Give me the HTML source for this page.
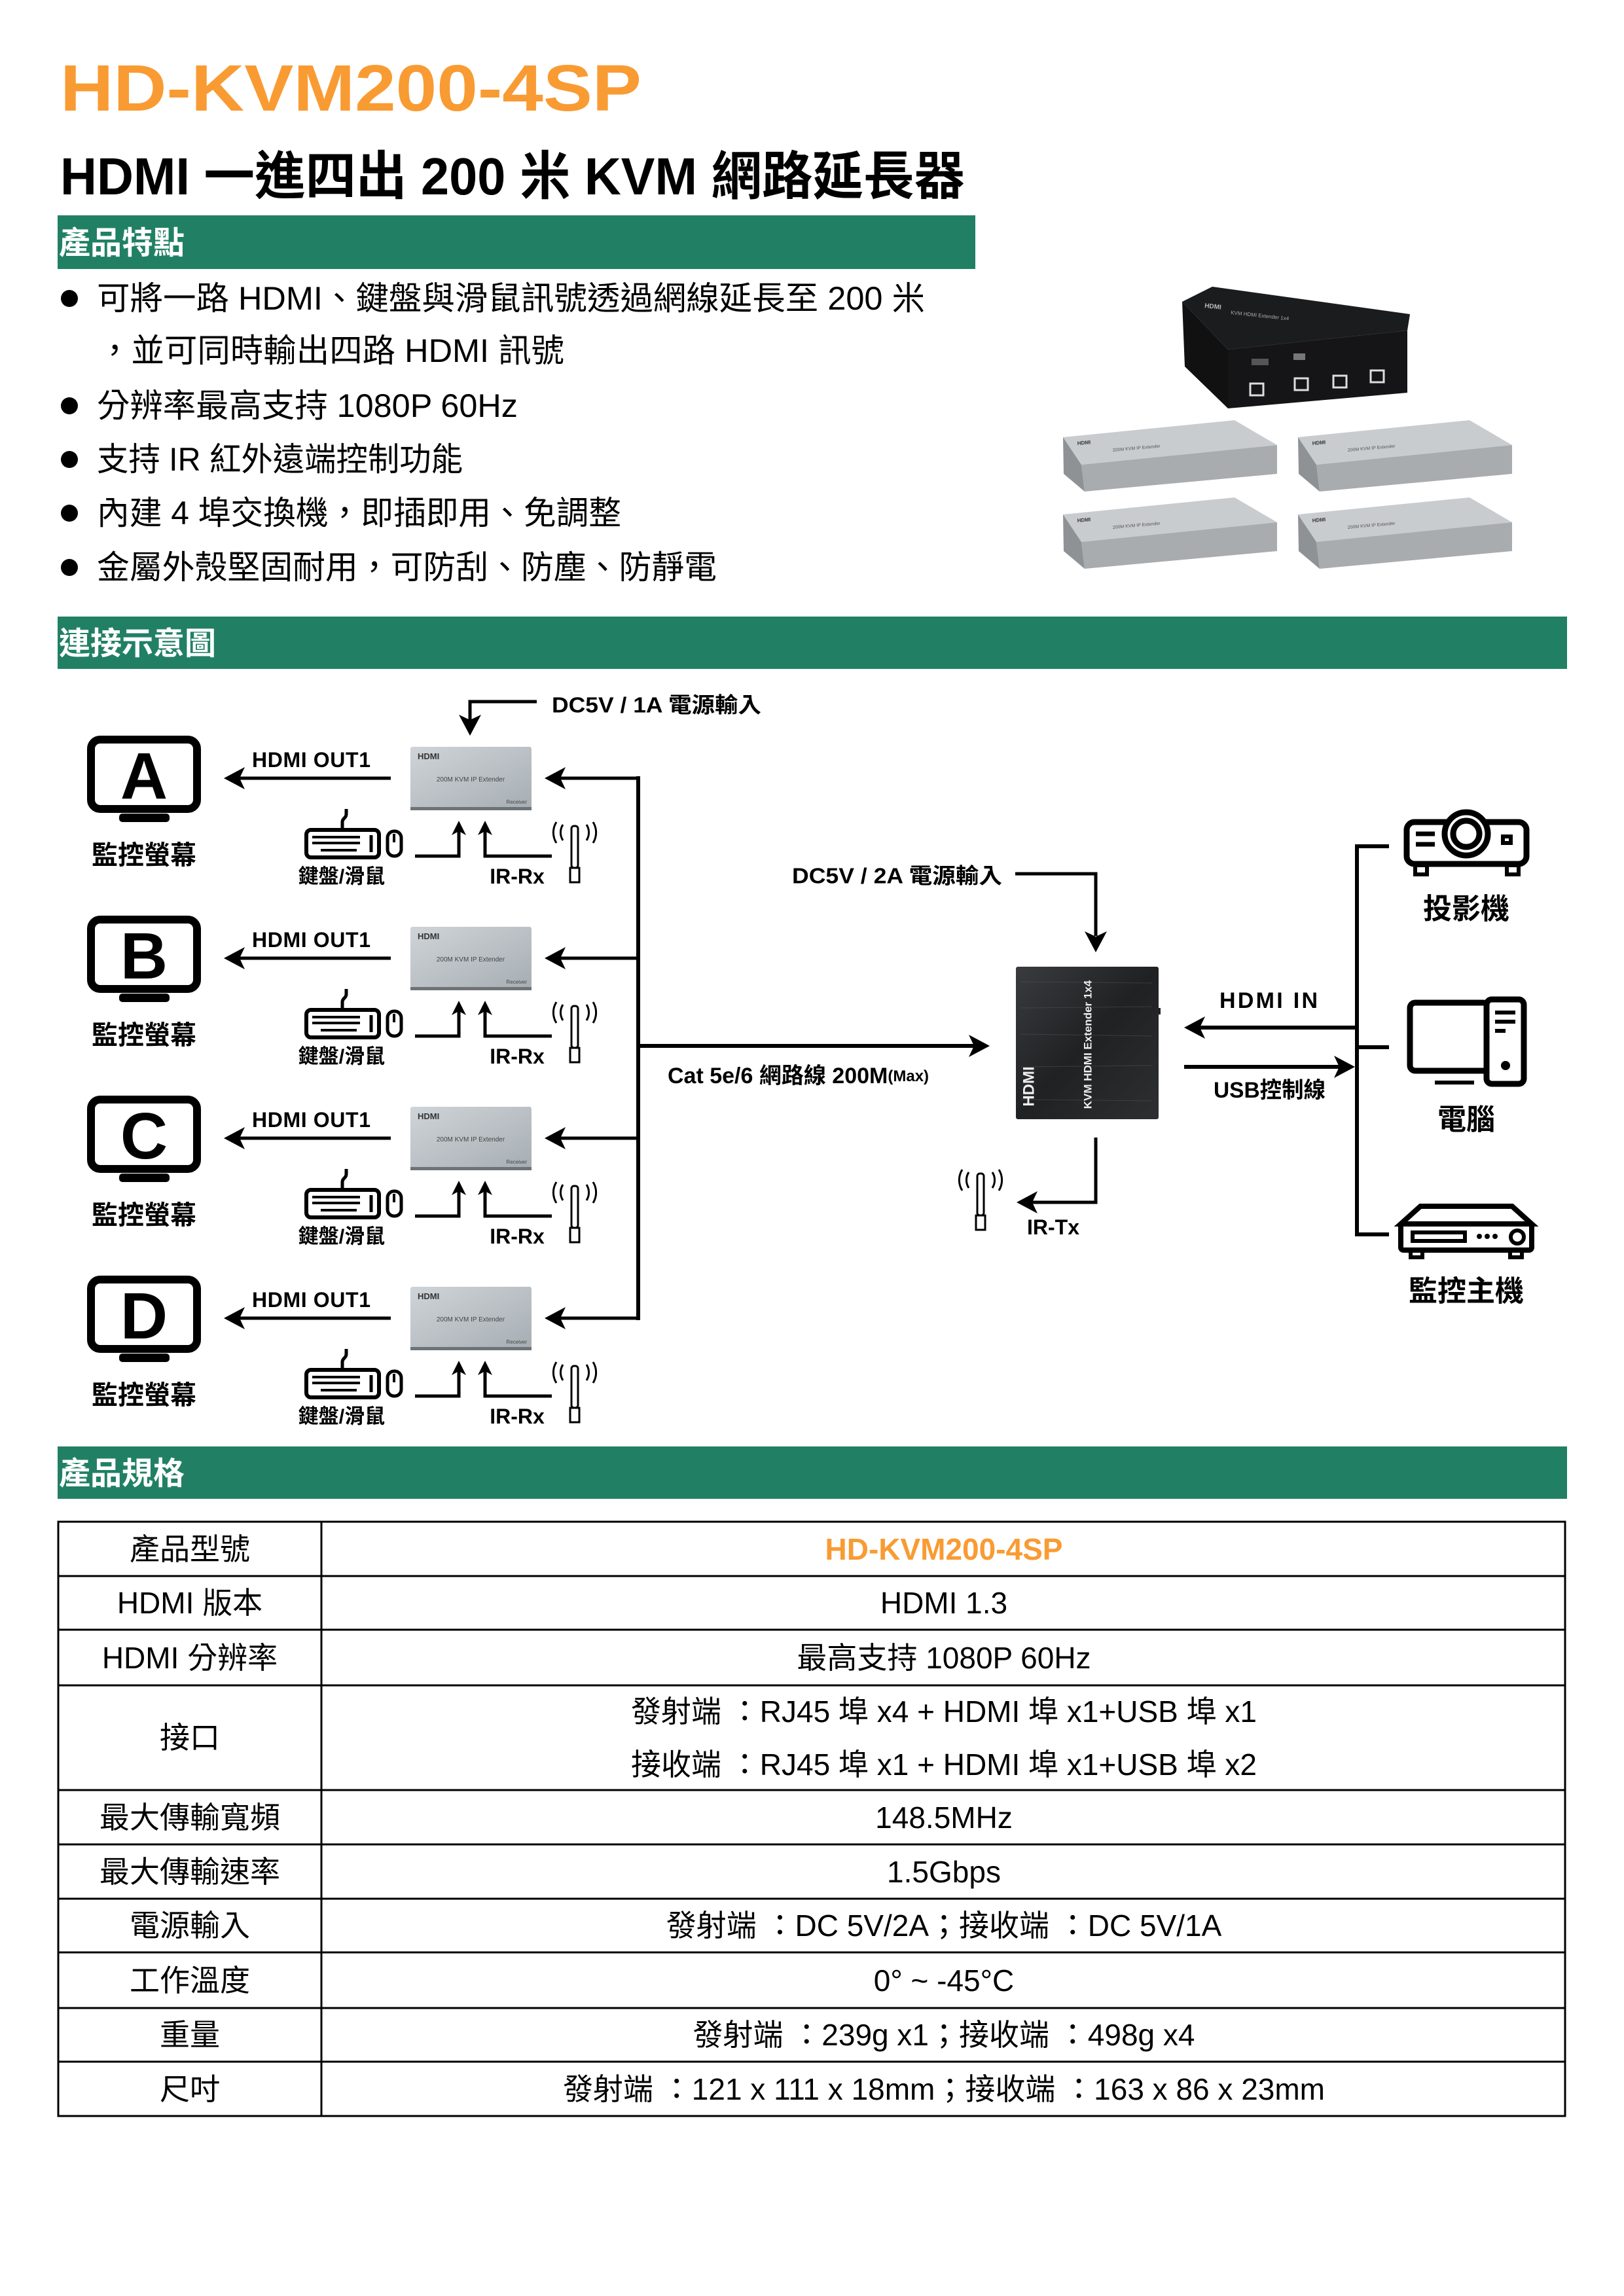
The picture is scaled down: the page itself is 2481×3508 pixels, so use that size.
<!DOCTYPE html>
<html><head><meta charset="utf-8"><style>
html,body{margin:0;padding:0;background:#fff}
svg{display:block}
text{font-family:"Liberation Sans","Noto Sans CJK TC",sans-serif}
.b{font-weight:bold}
</style></head><body>
<svg width="2481" height="3508" viewBox="0 0 2481 3508" xmlns="http://www.w3.org/2000/svg">
<defs>
<linearGradient id="rg" x1="0" y1="0" x2="1" y2="1"><stop offset="0" stop-color="#cfd4d8"/><stop offset="1" stop-color="#a7aeb3"/></linearGradient>
<linearGradient id="tg" x1="0" y1="0" x2="1" y2="1"><stop offset="0" stop-color="#3a3b3e"/><stop offset="0.5" stop-color="#202123"/><stop offset="1" stop-color="#2e2f31"/></linearGradient>
<g id="lArr"><polygon points="0,0 32,-17 24,0 32,17" fill="#000"/></g>
<g id="rArr"><polygon points="0,0 -32,-17 -24,0 -32,17" fill="#000"/></g>
<g id="uArr"><polygon points="0,0 -11,22 0,16 11,22" fill="#000"/></g>
<g id="dArr"><polygon points="0,0 -17,-32 0,-24 17,-32" fill="#000"/></g>
<g id="ant">
  <rect x="-5" y="0" width="10" height="64" fill="none" stroke="#000" stroke-width="3" rx="4"/>
  <rect x="-7" y="64" width="14" height="22" fill="none" stroke="#000" stroke-width="3"/>
  <path d="M-18,-2 A22,22 0 0 0 -18,22 M-28,-6 A30,30 0 0 0 -28,26 M18,-2 A22,22 0 0 1 18,22 M28,-6 A30,30 0 0 1 28,26" fill="none" stroke="#000" stroke-width="3"/>
</g>
<g id="row">
  <rect x="139" y="1130" width="162" height="106" rx="14" fill="none" stroke="#000" stroke-width="12"/>
  <rect x="182" y="1243" width="77" height="13" rx="5" fill="#000"/>
  <text x="220" y="1186" class="b" font-size="100" text-anchor="middle" dominant-baseline="central">?</text>
</g>
<g id="recv">
  <rect x="627" y="1141" width="185" height="94" fill="url(#rg)" rx="3"/>
  <rect x="627" y="1233" width="185" height="5" fill="#6d7377"/>
  <text x="638" y="1160" class="b" font-size="13" fill="#333">HDMI</text>
  <text x="719" y="1194" font-size="10" fill="#444" text-anchor="middle">200M KVM IP Extender</text>
  <text x="805" y="1228" font-size="8" fill="#444" text-anchor="end">Receiver</text>
</g>
<g id="rowc">
  <text x="220" y="1307" class="b" font-size="40" text-anchor="middle" dominant-baseline="central">監控螢幕</text>
  <text x="385" y="1161" class="b" font-size="32" dominant-baseline="central" textLength="181">HDMI OUT1</text>
  <line x1="360" y1="1189" x2="597" y2="1189" stroke="#000" stroke-width="5"/>
  <use href="#lArr" x="342" y="1189"/>
  <use href="#recv"/>
  <line x1="852" y1="1189" x2="977" y2="1189" stroke="#000" stroke-width="5"/>
  <use href="#lArr" x="832" y="1189"/>
  <!-- keyboard -->
  <rect x="468" y="1268" width="111" height="42" rx="7" fill="none" stroke="#000" stroke-width="6"/>
  <path d="M523,1268 v-12 c0,-6 6,-6 6,-12 v-8" fill="none" stroke="#000" stroke-width="5"/>
  <line x1="477" y1="1279" x2="550" y2="1279" stroke="#000" stroke-width="4"/>
  <line x1="477" y1="1288" x2="550" y2="1288" stroke="#000" stroke-width="4"/>
  <line x1="490" y1="1299" x2="545" y2="1299" stroke="#000" stroke-width="4"/>
  <line x1="567" y1="1276" x2="567" y2="1302" stroke="#000" stroke-width="5"/>
  <rect x="592" y="1270" width="21" height="38" rx="10" fill="none" stroke="#000" stroke-width="5"/>
  <line x1="602" y1="1274" x2="602" y2="1287" stroke="#000" stroke-width="4"/>
  <path d="M634,1308 H701 V1270" fill="none" stroke="#000" stroke-width="5"/>
  <use href="#uArr" x="701" y="1254"/>
  <path d="M843,1308 H741 V1270" fill="none" stroke="#000" stroke-width="5"/>
  <use href="#uArr" x="741" y="1254"/>
  <text x="522" y="1339" class="b" font-size="31" text-anchor="middle" dominant-baseline="central">鍵盤/滑鼠</text>
  <text x="790" y="1339" class="b" font-size="32" text-anchor="middle" dominant-baseline="central">IR-Rx</text>
  <use href="#ant" x="878" y="1262"/>
</g>
</defs>

<!-- Header -->
<text x="92" y="169" class="b" font-size="100" fill="#f99b33" textLength="888" lengthAdjust="spacingAndGlyphs">HD-KVM200-4SP</text>
<text x="92" y="297" class="b" font-size="80" fill="#000" textLength="1382" lengthAdjust="spacingAndGlyphs">HDMI 一進四出 200 米 KVM 網路延長器</text>

<rect x="88" y="329" width="1402" height="82" fill="#218064"/>
<text x="90" y="372" class="b" font-size="48" fill="#fff" dominant-baseline="central">產品特點</text>

<g font-size="50" fill="#000">
<circle cx="106" cy="456" r="13"/>
<text x="148" y="456" dominant-baseline="central" textLength="1265" lengthAdjust="spacingAndGlyphs">可將一路 HDMI、鍵盤與滑鼠訊號透過網線延長至 200 米</text>
<text x="150" y="536" dominant-baseline="central" textLength="712" lengthAdjust="spacingAndGlyphs">，並可同時輸出四路 HDMI 訊號</text>
<circle cx="106" cy="620" r="13"/>
<text x="148" y="620" dominant-baseline="central" textLength="643" lengthAdjust="spacingAndGlyphs">分辨率最高支持 1080P 60Hz</text>
<circle cx="106" cy="702" r="13"/>
<text x="148" y="702" dominant-baseline="central" textLength="559" lengthAdjust="spacingAndGlyphs">支持 IR  紅外遠端控制功能</text>
<circle cx="106" cy="784" r="13"/>
<text x="148" y="784" dominant-baseline="central" textLength="801" lengthAdjust="spacingAndGlyphs">內建 4 埠交換機，即插即用、免調整</text>
<circle cx="106" cy="867" r="13"/>
<text x="148" y="867" dominant-baseline="central" textLength="947" lengthAdjust="spacingAndGlyphs">金屬外殼堅固耐用，可防刮、防塵、防靜電</text>
</g>

<!-- product photo -->
<g>
  <polygon points="1806,461 1852,438 2154,480 2150,505 1876,534" fill="#1b1c1e"/>
  <polygon points="1806,461 1876,534 1876,624 1810,560" fill="#111"/>
  <polygon points="1876,534 2150,505 2150,600 1876,624" fill="#151517"/>
  <text x="1840" y="470" font-size="10" fill="#bbb" class="b" transform="rotate(6 1840 470)">HDMI</text>
  <text x="1880" y="480" font-size="8" fill="#aaa" transform="rotate(6 1880 480)">KVM HDMI Extender 1x4</text>
  <rect x="1910" y="586" width="20" height="18" fill="none" stroke="#ddd" stroke-width="3"/>
  <rect x="1978" y="578" width="20" height="18" fill="none" stroke="#ddd" stroke-width="3"/>
  <rect x="2037" y="574" width="20" height="18" fill="none" stroke="#ddd" stroke-width="3"/>
  <rect x="2094" y="566" width="20" height="18" fill="none" stroke="#ddd" stroke-width="3"/>
  <rect x="1912" y="548" width="26" height="10" fill="#555"/>
  <rect x="1976" y="540" width="18" height="10" fill="#777"/>
</g>
<g id="gbox">
  <polygon points="1624,668 1886,642 1951,680 1652,710" fill="#c9cccf"/>
  <polygon points="1652,710 1951,680 1951,724 1657,751" fill="#a9acaf"/>
  <polygon points="1624,668 1652,710 1657,751 1625,724" fill="#8f9295"/>
  <text x="1646" y="680" font-size="8" class="b" fill="#333" transform="rotate(-5 1646 680)">HDMI</text>
  <text x="1700" y="690" font-size="7" fill="#555" transform="rotate(-5 1700 690)">200M KVM IP Extender</text>
</g>
<use href="#gbox" x="359" y="0"/>
<use href="#gbox" x="0" y="118"/>
<use href="#gbox" x="359" y="118"/>

<rect x="88" y="942" width="2306" height="80" fill="#218064"/>
<text x="90" y="984" class="b" font-size="48" fill="#fff" dominant-baseline="central">連接示意圖</text>

<!-- Rows -->
<g>
  <use href="#rowc"/><use href="#row"/>
  <text x="220" y="1186" class="b" font-size="100" text-anchor="middle" dominant-baseline="central" fill="#fff" stroke="#fff" stroke-width="2"></text>
</g>
<g transform="translate(0,0)">
  <rect x="190" y="1140" width="60" height="90" fill="#fff"/>
  <text x="220" y="1186" class="b" font-size="100" text-anchor="middle" dominant-baseline="central">A</text>
</g>
<g transform="translate(0,275)"><use href="#rowc"/><use href="#row"/><rect x="190" y="1140" width="60" height="90" fill="#fff"/><text x="220" y="1186" class="b" font-size="100" text-anchor="middle" dominant-baseline="central">B</text></g>
<g transform="translate(0,550)"><use href="#rowc"/><use href="#row"/><rect x="190" y="1140" width="60" height="90" fill="#fff"/><text x="220" y="1186" class="b" font-size="100" text-anchor="middle" dominant-baseline="central">C</text></g>
<g transform="translate(0,825)"><use href="#rowc"/><use href="#row"/><rect x="190" y="1140" width="60" height="90" fill="#fff"/><text x="220" y="1186" class="b" font-size="100" text-anchor="middle" dominant-baseline="central">D</text></g>

<!-- DC5V 1A -->
<path d="M820,1072 H718 V1100" fill="none" stroke="#000" stroke-width="5"/>
<use href="#dArr" x="718" y="1124"/>
<text x="843" y="1077" class="b" font-size="33" dominant-baseline="central" textLength="320" lengthAdjust="spacingAndGlyphs">DC5V / 1A 電源輸入</text>

<!-- bus -->
<line x1="975" y1="1186" x2="975" y2="2017" stroke="#000" stroke-width="6"/>
<line x1="975" y1="1598" x2="1490" y2="1598" stroke="#000" stroke-width="6"/>
<use href="#rArr" x="1512" y="1598"/>
<text x="1020" y="1644" class="b" font-size="34" dominant-baseline="central">Cat 5e/6 網路線 200M<tspan font-size="24">(Max)</tspan></text>

<!-- DC5V 2A -->
<text x="1210" y="1338" class="b" font-size="33" dominant-baseline="central" textLength="321" lengthAdjust="spacingAndGlyphs">DC5V / 2A 電源輸入</text>
<path d="M1551,1335 H1674 V1430" fill="none" stroke="#000" stroke-width="5"/>
<use href="#dArr" x="1674" y="1455"/>

<!-- transmitter -->
<rect x="1552" y="1477" width="218" height="233" rx="3" fill="url(#tg)"/>
<g stroke="#555" stroke-width="1" opacity="0.5">
<line x1="1560" y1="1500" x2="1760" y2="1502"/><line x1="1560" y1="1540" x2="1760" y2="1538"/><line x1="1560" y1="1580" x2="1760" y2="1583"/><line x1="1560" y1="1630" x2="1760" y2="1628"/><line x1="1560" y1="1680" x2="1760" y2="1682"/>
</g>
<rect x="1770" y="1540" width="3" height="10" fill="#222"/>
<text x="1662" y="1596" font-size="17" class="b" fill="#eee" text-anchor="middle" dominant-baseline="central" transform="rotate(-90 1662 1596)">KVM HDMI Extender 1x4</text>
<text x="1572" y="1660" font-size="24" class="b" fill="#eee" text-anchor="middle" dominant-baseline="central" transform="rotate(-90 1572 1660)">HDMI</text>

<!-- IR-Tx -->
<path d="M1674,1738 V1837 H1575" fill="none" stroke="#000" stroke-width="5"/>
<use href="#lArr" x="1553" y="1837"/>
<text x="1569" y="1875" class="b" font-size="32" dominant-baseline="central">IR-Tx</text>
<use href="#ant" x="1498" y="1793"/>

<!-- HDMI IN / USB -->
<text x="1863" y="1529" class="b" font-size="34" dominant-baseline="central" textLength="150">HDMI IN</text>
<line x1="1830" y1="1570" x2="2073" y2="1570" stroke="#000" stroke-width="6"/>
<use href="#lArr" x="1809" y="1570"/>
<line x1="1809" y1="1630" x2="2050" y2="1630" stroke="#000" stroke-width="6"/>
<use href="#rArr" x="2070" y="1630"/>
<text x="1854" y="1666" class="b" font-size="34" dominant-baseline="central" textLength="171" lengthAdjust="spacingAndGlyphs">USB控制線</text>

<!-- right bus -->
<path d="M2122,1293 H2073 V1886 H2122 M2073,1600 H2122" fill="none" stroke="#000" stroke-width="6"/>

<!-- projector -->
<g fill="none" stroke="#000" stroke-width="9">
  <rect x="2149" y="1256" width="183" height="64" rx="12"/>
  <circle cx="2240" cy="1274" r="33" fill="#fff"/>
  <circle cx="2240" cy="1274" r="20"/>
  <line x1="2163" y1="1274" x2="2192" y2="1274" stroke-width="7"/>
  <line x1="2163" y1="1290" x2="2192" y2="1290" stroke-width="7"/>
  <rect x="2296" y="1278" width="12" height="10" stroke-width="6"/>
  <rect x="2162" y="1322" width="18" height="14" stroke-width="6"/>
  <rect x="2302" y="1322" width="18" height="14" stroke-width="6"/>
</g>
<text x="2240" y="1389" class="b" font-size="44" text-anchor="middle" dominant-baseline="central">投影機</text>

<!-- PC -->
<g fill="none" stroke="#000" stroke-width="9">
  <rect x="2154" y="1532" width="120" height="104" rx="8"/>
  <rect x="2271" y="1527" width="57" height="129" rx="8" fill="#fff"/>
  <line x1="2284" y1="1547" x2="2315" y2="1547" stroke-width="6"/>
  <line x1="2284" y1="1561" x2="2315" y2="1561" stroke-width="6"/>
  <line x1="2284" y1="1575" x2="2300" y2="1575" stroke-width="6"/>
  <line x1="2192" y1="1654" x2="2252" y2="1654" stroke-width="6"/>
</g>
<circle cx="2300" cy="1628" r="7"/>
<text x="2240" y="1711" class="b" font-size="44" text-anchor="middle" dominant-baseline="central">電腦</text>

<!-- DVR -->
<g fill="none" stroke="#000" stroke-width="8">
  <polygon points="2140,1870 2170,1843 2310,1843 2340,1870"/>
  <rect x="2140" y="1870" width="200" height="40" rx="4"/>
  <rect x="2158" y="1883" width="80" height="13" stroke-width="6"/>
  <circle cx="2318" cy="1890" r="10" stroke-width="6"/>
  <rect x="2155" y="1910" width="18" height="11" stroke-width="6"/>
  <rect x="2307" y="1910" width="18" height="11" stroke-width="6"/>
</g>
<circle cx="2260" cy="1889" r="4"/><circle cx="2272" cy="1889" r="4"/><circle cx="2284" cy="1889" r="4"/>
<text x="2240" y="1973" class="b" font-size="44" text-anchor="middle" dominant-baseline="central">監控主機</text>

<!-- Spec -->
<rect x="88" y="2210" width="2306" height="80" fill="#218064"/>
<text x="90" y="2252" class="b" font-size="48" fill="#fff" dominant-baseline="central">產品規格</text>

<g stroke="#000" stroke-width="3" fill="none">
  <rect x="89" y="2325" width="2302" height="908"/>
  <line x1="491" y1="2325" x2="491" y2="3233"/>
  <line x1="89" y1="2408" x2="2391" y2="2408"/>
  <line x1="89" y1="2490" x2="2391" y2="2490"/>
  <line x1="89" y1="2575" x2="2391" y2="2575"/>
  <line x1="89" y1="2735" x2="2391" y2="2735"/>
  <line x1="89" y1="2818" x2="2391" y2="2818"/>
  <line x1="89" y1="2901" x2="2391" y2="2901"/>
  <line x1="89" y1="2983" x2="2391" y2="2983"/>
  <line x1="89" y1="3068" x2="2391" y2="3068"/>
  <line x1="89" y1="3150" x2="2391" y2="3150"/>
</g>
<g font-size="46" text-anchor="middle" dominant-baseline="central">
  <text x="290" y="2367">產品型號</text>
  <text x="290" y="2449">HDMI  版本</text>
  <text x="290" y="2533">HDMI  分辨率</text>
  <text x="290" y="2655">接口</text>
  <text x="290" y="2777">最大傳輸寬頻</text>
  <text x="290" y="2860">最大傳輸速率</text>
  <text x="290" y="2942">電源輸入</text>
  <text x="290" y="3026">工作溫度</text>
  <text x="290" y="3109">重量</text>
  <text x="290" y="3192">尺吋</text>

  <text x="1442" y="2367" class="b" fill="#f99b33" font-size="46">HD-KVM200-4SP</text>
  <text x="1442" y="2449">HDMI 1.3</text>
  <text x="1442" y="2533">最高支持 1080P 60Hz</text>
  <text x="1442" y="2615">發射端 ：RJ45 埠  x4 + HDMI 埠  x1+USB 埠  x1</text>
  <text x="1442" y="2696">接收端 ：RJ45 埠  x1 + HDMI 埠  x1+USB 埠  x2</text>
  <text x="1442" y="2777">148.5MHz</text>
  <text x="1442" y="2860">1.5Gbps</text>
  <text x="1442" y="2942">發射端 ：DC 5V/2A；接收端 ：DC 5V/1A</text>
  <text x="1442" y="3026">0° ~ -45°C</text>
  <text x="1442" y="3109">發射端 ：239g x1；接收端 ：498g x4</text>
  <text x="1442" y="3192">發射端 ：121 x 111 x 18mm；接收端 ：163 x 86 x 23mm</text>
</g>
</svg>
</body></html>
